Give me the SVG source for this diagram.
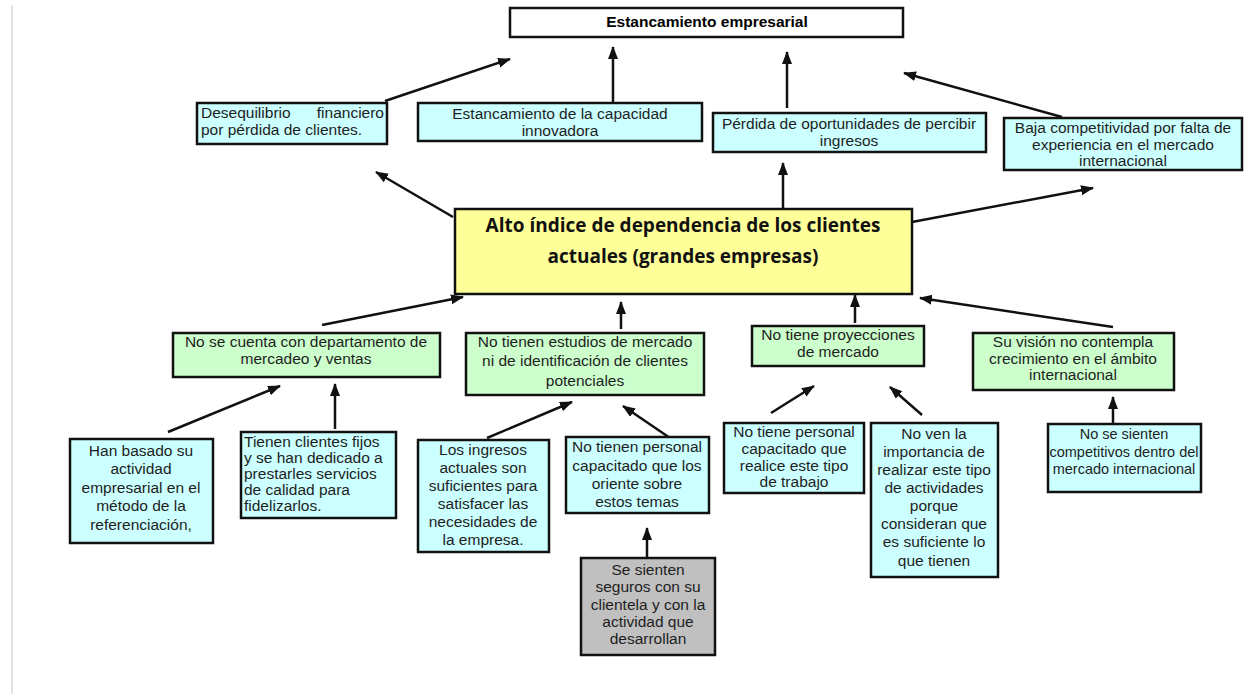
<svg xmlns="http://www.w3.org/2000/svg" width="1248" height="694" viewBox="0 0 1248 694">
<style>
.b{stroke:#111;stroke-width:2.5}
.c{fill:#ccffff}
.g{fill:#ccffcc}
.y{fill:#ffff99}
.s{fill:#c0c0c0}
.w{fill:#fff}
text{font-family:"Liberation Sans",Arial,sans-serif;font-size:15.5px;fill:#1e1e1e}
.m{text-anchor:middle}
.e{text-anchor:end}
.sm{font-size:14.5px}
.h{font-weight:bold;font-size:15.5px;fill:#000}
.k{font-family:"Open Sans","Noto Sans",sans-serif;font-weight:bold;font-size:19px;fill:#111}
.ln{stroke:#111;stroke-width:2.5;fill:none;marker-end:url(#ah)}
</style>
<defs>
<marker id="ah" markerUnits="userSpaceOnUse" markerWidth="14" markerHeight="12" refX="12" refY="5" orient="auto">
<path d="M0,0 L13,5 L0,10 Z" fill="#111"/>
</marker>
</defs>
<rect width="1248" height="694" fill="#fff"/>
<line x1="12" y1="5" x2="12" y2="694" stroke="#e2e2e2" stroke-width="2"/>

<g id="connectors">
<line class="ln" x1="385" y1="101" x2="510" y2="59"/>
<line class="ln" x1="613" y1="103" x2="613" y2="47"/>
<line class="ln" x1="787" y1="108" x2="787" y2="52"/>
<line class="ln" x1="1062" y1="117" x2="904" y2="73"/>
<line class="ln" x1="453" y1="217" x2="376" y2="172"/>
<line class="ln" x1="783" y1="208" x2="783" y2="163"/>
<line class="ln" x1="912" y1="222" x2="1093" y2="188"/>
<line class="ln" x1="322" y1="325" x2="463" y2="297"/>
<line class="ln" x1="621" y1="329" x2="621" y2="302"/>
<line class="ln" x1="855" y1="323" x2="855" y2="295"/>
<line class="ln" x1="1113" y1="327" x2="920" y2="298"/>
<line class="ln" x1="168" y1="432" x2="280" y2="386"/>
<line class="ln" x1="335" y1="429" x2="335" y2="384"/>
<line class="ln" x1="487" y1="438" x2="572" y2="402"/>
<line class="ln" x1="673" y1="440" x2="623" y2="406"/>
<line class="ln" x1="647" y1="557" x2="647" y2="528"/>
<line class="ln" x1="771" y1="413" x2="814" y2="386"/>
<line class="ln" x1="922" y1="415" x2="890" y2="387"/>
<line class="ln" x1="1113" y1="423" x2="1113" y2="397"/>
</g>

<g id="n-estancamiento">
<rect class="b w" x="510" y="8" width="393" height="29"/>
<text class="h m" x="707" y="27">Estancamiento empresarial</text>
</g>

<g id="n-desequilibrio">
<rect class="b c" x="197" y="103" width="190" height="41"/>
<text x="201" y="118">Desequilibrio</text>
<text class="e" x="384" y="118">financiero</text>
<text x="201" y="135">por pérdida de clientes.</text>
</g>

<g id="n-capacidad">
<rect class="b c" x="418" y="103" width="284" height="38"/>
<text class="m" x="560" y="119">Estancamiento de la capacidad</text>
<text class="m" x="560" y="136">innovadora</text>
</g>

<g id="n-perdida">
<rect class="b c" x="713" y="113" width="273" height="39"/>
<text class="m" x="849" y="129">Pérdida de oportunidades de percibir</text>
<text class="m" x="849" y="146">ingresos</text>
</g>

<g id="n-baja">
<rect class="b c" x="1004" y="118" width="238" height="52"/>
<text class="m" x="1123" y="133">Baja competitividad por falta de</text>
<text class="m" x="1123" y="150">experiencia en el mercado</text>
<text class="m" x="1123" y="166">internacional</text>
</g>

<g id="n-central">
<rect class="b y" x="455" y="209" width="457" height="85"/>
<text class="k m" x="683" y="232">Alto índice de dependencia de los clientes</text>
<text class="k m" x="683" y="263">actuales (grandes empresas)</text>
</g>

<g id="n-departamento">
<rect class="b g" x="173" y="333" width="267" height="44"/>
<text class="m" x="306" y="347">No se cuenta con departamento de</text>
<text class="m" x="306" y="364">mercadeo y ventas</text>
</g>

<g id="n-estudios">
<rect class="b g" x="466" y="333" width="238" height="62"/>
<text class="m" x="585" y="347">No tienen estudios de mercado</text>
<text class="m" x="585" y="366">ni de identificación de clientes</text>
<text class="m" x="585" y="386">potenciales</text>
</g>

<g id="n-proyecciones">
<rect class="b g" x="752" y="326" width="172" height="40"/>
<text class="m" x="838" y="340">No tiene proyecciones</text>
<text class="m" x="838" y="357">de mercado</text>
</g>

<g id="n-vision">
<rect class="b g" x="973" y="333" width="201" height="57"/>
<text class="m" x="1073" y="347">Su visión no contempla</text>
<text class="m" x="1073" y="364">crecimiento en el ámbito</text>
<text class="m" x="1073" y="380">internacional</text>
</g>

<g id="n-han-basado">
<rect class="b c" x="70" y="439" width="143" height="104"/>
<text class="m" x="141" y="456">Han basado su</text>
<text class="m" x="141" y="474">actividad</text>
<text class="m" x="141" y="493">empresarial en el</text>
<text class="m" x="141" y="511">método de la</text>
<text class="m" x="141" y="530">referenciación,</text>
</g>

<g id="n-tienen-clientes">
<rect class="b c" x="241" y="432" width="155" height="86"/>
<text x="244" y="447">Tienen clientes fijos</text>
<text x="244" y="463">y se han dedicado a</text>
<text x="244" y="479">prestarles servicios</text>
<text x="244" y="495">de calidad para</text>
<text x="244" y="511">fidelizarlos.</text>
</g>

<g id="n-ingresos">
<rect class="b c" x="418" y="440" width="131" height="112"/>
<text class="m" x="483" y="455">Los ingresos</text>
<text class="m" x="483" y="473">actuales son</text>
<text class="m" x="483" y="491">suficientes para</text>
<text class="m" x="483" y="509">satisfacer las</text>
<text class="m" x="483" y="527">necesidades de</text>
<text class="m" x="483" y="545">la empresa.</text>
</g>

<g id="n-personal-oriente">
<rect class="b c" x="566" y="437" width="143" height="76"/>
<text class="m" x="637" y="452">No tienen personal</text>
<text class="m" x="637" y="471">capacitado que los</text>
<text class="m" x="637" y="489">oriente sobre</text>
<text class="m" x="637" y="507">estos temas</text>
</g>

<g id="n-seguros">
<rect class="b s" x="581" y="558" width="134" height="97"/>
<text class="m" x="648" y="575">Se sienten</text>
<text class="m" x="648" y="592">seguros con su</text>
<text class="m" x="648" y="610">clientela y con la</text>
<text class="m" x="648" y="627">actividad que</text>
<text class="m" x="648" y="644">desarrollan</text>
</g>

<g id="n-personal-trabajo">
<rect class="b c" x="724" y="423" width="140" height="70"/>
<text class="m" x="794" y="437">No tiene personal</text>
<text class="m" x="794" y="454">capacitado que</text>
<text class="m" x="794" y="471">realice este tipo</text>
<text class="m" x="794" y="487">de trabajo</text>
</g>

<g id="n-no-ven">
<rect class="b c" x="871" y="423" width="127" height="154"/>
<text class="m" x="934" y="439">No ven la</text>
<text class="m" x="934" y="457">importancia de</text>
<text class="m" x="934" y="475">realizar este tipo</text>
<text class="m" x="934" y="493">de actividades</text>
<text class="m" x="934" y="511">porque</text>
<text class="m" x="934" y="529">consideran que</text>
<text class="m" x="934" y="547">es suficiente lo</text>
<text class="m" x="934" y="566">que tienen</text>
</g>

<g id="n-competitivos">
<rect class="b c" x="1048" y="424" width="153" height="68"/>
<text class="m sm" x="1124" y="439">No se sienten</text>
<text class="m sm" x="1124" y="457">competitivos dentro del</text>
<text class="m sm" x="1124" y="474">mercado internacional</text>
</g>
</svg>
